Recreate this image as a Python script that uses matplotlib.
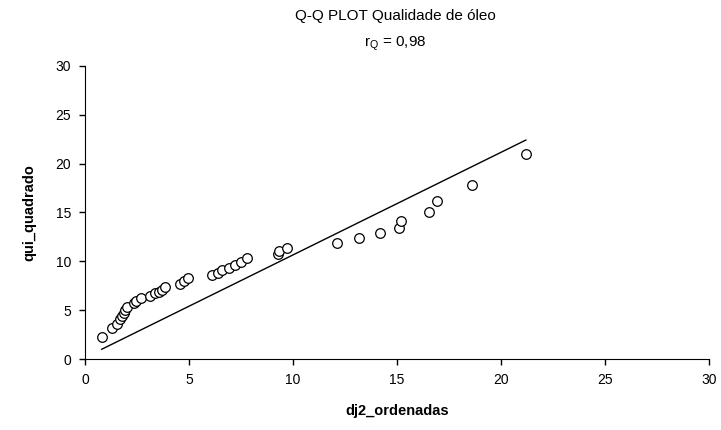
import matplotlib
matplotlib.use("Agg")
import matplotlib.pyplot as plt

plt.rcParams['font.family'] = ['Liberation Sans', 'DejaVu Sans']

# dj2 ordenadas (x) e quantis qui-quadrado (y)
dj2 = [0.8, 1.3, 1.55, 1.7, 1.78, 1.85, 1.93, 2.0, 2.35, 2.45, 2.7, 3.1, 3.35, 3.55, 3.7, 3.85,
       4.55, 4.75, 4.95,
       6.1, 6.4, 6.6, 6.9, 7.2, 7.5, 7.8,
       9.3, 9.35, 9.7,
       12.1, 13.2, 14.2, 15.1, 15.2, 16.55, 16.95, 18.6, 21.2]
qui = [2.3, 3.2, 3.6, 4.1, 4.4, 4.7, 5.0, 5.3, 5.7, 5.95, 6.25, 6.5, 6.75, 6.9, 7.1, 7.4,
       7.7, 8.0, 8.3,
       8.55, 8.8, 9.1, 9.3, 9.6, 9.9, 10.3,
       10.7, 11.05, 11.4,
       11.9, 12.4, 12.9, 13.45, 14.15, 15.05, 16.15, 17.85, 21.0]

linha_x = [0.8, 21.2]
linha_y = [1.0, 22.4]

fig = plt.figure(figsize=(7.21, 4.30), dpi=100)
ax = fig.add_axes([0.118, 0.165, 0.865, 0.682])

ax.plot(linha_x, linha_y, color='black', lw=1)
ax.scatter(dj2, qui, s=48, facecolors='white', edgecolors='black', linewidths=0.9, zorder=3)

ax.set_xlim(0, 30)
ax.set_ylim(0, 30)
ax.set_xticks(range(0, 31, 5))
ax.set_yticks(range(0, 31, 5))
ax.tick_params(labelsize=10, direction='out', length=4, width=1, pad=6)
ax.spines['top'].set_visible(False)
ax.spines['right'].set_visible(False)

ax.set_xlabel('dj2_ordenadas', fontsize=10.5, fontweight='bold', labelpad=12)
ax.set_ylabel('qui_quadrado', fontsize=10.5, fontweight='bold', labelpad=14)

fig.text(0.548, 0.963, 'Q-Q PLOT Qualidade de óleo', ha='center', va='center', fontsize=11)
fig.text(0.548, 0.898, r'r$_\mathregular{Q}$ = 0,98', ha='center', va='center', fontsize=11)

fig.savefig('out.png', dpi=100)
